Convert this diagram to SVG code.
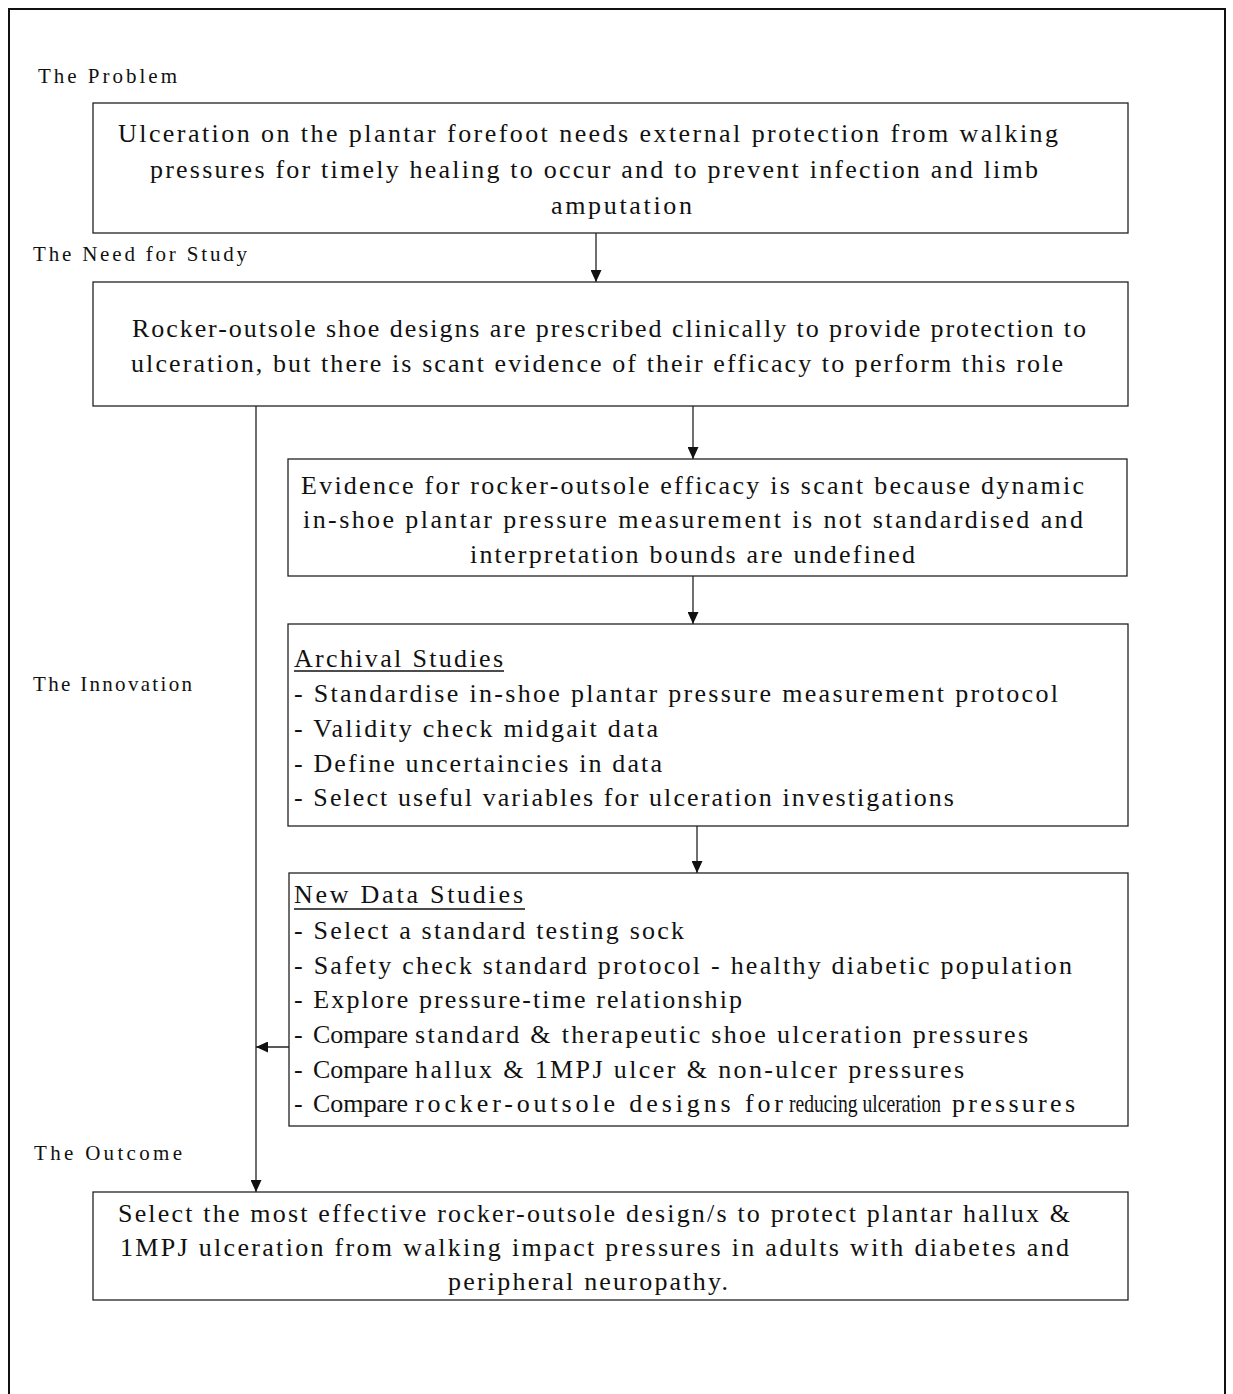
<svg xmlns="http://www.w3.org/2000/svg" width="1233" height="1394" viewBox="0 0 1233 1394">
<style>
text{font-family:"Liberation Serif","Times New Roman",serif;fill:#111}
.lbl{font-size:21px}
.bt{font-size:26px}
.box{fill:#fff;stroke:#222;stroke-width:1.3}
.con{stroke:#222;stroke-width:1.3;fill:none}
.ul{stroke:#111;stroke-width:1.3}
</style>
<defs>
<marker id="ah" markerUnits="userSpaceOnUse" markerWidth="12" markerHeight="11" refX="12" refY="5.5" orient="auto">
<path d="M0,0 L12,5.5 L0,11 Z" fill="#111"/>
</marker>
</defs>
<rect x="0" y="0" width="1233" height="1394" fill="#fff"/>
<rect x="9" y="9" width="1216" height="1400" fill="none" stroke="#111" stroke-width="2"/>

<g id="labels">
<text class="lbl" x="38" y="83" textLength="139" lengthAdjust="spacing">The Problem</text>
<text class="lbl" x="33" y="261" textLength="214" lengthAdjust="spacing">The Need for Study</text>
<text class="lbl" x="33" y="691" textLength="159" lengthAdjust="spacing">The Innovation</text>
<text class="lbl" x="34" y="1160" textLength="148" lengthAdjust="spacing">The Outcome</text>
</g>

<g id="connectors">
<line class="con" x1="596" y1="233" x2="596" y2="282" marker-end="url(#ah)"/>
<line class="con" x1="256" y1="406" x2="256" y2="1192" marker-end="url(#ah)"/>
<line class="con" x1="693" y1="406" x2="693" y2="459" marker-end="url(#ah)"/>
<line class="con" x1="693" y1="576" x2="693" y2="624" marker-end="url(#ah)"/>
<line class="con" x1="697" y1="826" x2="697" y2="873" marker-end="url(#ah)"/>
<line class="con" x1="289" y1="1047" x2="256" y2="1047" marker-end="url(#ah)"/>
</g>

<g id="problem">
<rect class="box" x="93" y="103" width="1035" height="130"/>
<text class="bt" x="118" y="142" textLength="940" lengthAdjust="spacing">Ulceration on the plantar forefoot needs external protection from walking</text>
<text class="bt" x="150" y="178" textLength="888" lengthAdjust="spacing">pressures for timely healing to occur and to prevent infection and limb</text>
<text class="bt" x="551" y="214" textLength="141" lengthAdjust="spacing">amputation</text>
</g>

<g id="need">
<rect class="box" x="93" y="282" width="1035" height="124"/>
<text class="bt" x="132" y="337" textLength="954" lengthAdjust="spacing">Rocker-outsole shoe designs are prescribed clinically to provide protection to</text>
<text class="bt" x="131" y="372" textLength="932" lengthAdjust="spacing">ulceration, but there is scant evidence of their efficacy to perform this role</text>
</g>

<g id="evidence">
<rect class="box" x="288" y="459" width="839" height="117"/>
<text class="bt" x="301" y="494" textLength="783" lengthAdjust="spacing">Evidence for rocker-outsole efficacy is scant because dynamic</text>
<text class="bt" x="303" y="528" textLength="780" lengthAdjust="spacing">in-shoe plantar pressure measurement is not standardised and</text>
<text class="bt" x="470" y="563" textLength="445" lengthAdjust="spacing">interpretation bounds are undefined</text>
</g>

<g id="archival">
<rect class="box" x="288" y="624" width="840" height="202"/>
<text class="bt" x="294" y="667" textLength="209" lengthAdjust="spacing">Archival Studies</text>
<line class="ul" x1="294" y1="671" x2="504" y2="671"/>
<text class="bt" x="294" y="702" textLength="764" lengthAdjust="spacing">- Standardise in-shoe plantar pressure measurement protocol</text>
<text class="bt" x="294" y="737" textLength="364" lengthAdjust="spacing">- Validity check midgait data</text>
<text class="bt" x="294" y="772" textLength="368" lengthAdjust="spacing">- Define uncertaincies in data</text>
<text class="bt" x="294" y="806" textLength="660" lengthAdjust="spacing">- Select useful variables for ulceration investigations</text>
</g>

<g id="newdata">
<rect class="box" x="289" y="873" width="839" height="253"/>
<text class="bt" x="294" y="903" textLength="229" lengthAdjust="spacing">New Data Studies</text>
<line class="ul" x1="294" y1="909" x2="525" y2="909"/>
<text class="bt" x="294" y="939" textLength="390" lengthAdjust="spacing">- Select a standard testing sock</text>
<text class="bt" x="294" y="974" textLength="778" lengthAdjust="spacing">- Safety check standard protocol - healthy diabetic population</text>
<text class="bt" x="294" y="1008" textLength="448" lengthAdjust="spacing">- Explore pressure-time relationship</text>
<text class="bt" x="294" y="1043">-</text>
<text class="bt" x="313" y="1043" textLength="95" lengthAdjust="spacingAndGlyphs">Compare</text>
<text class="bt" x="415" y="1043" textLength="613" lengthAdjust="spacing">standard &amp; therapeutic shoe ulceration pressures</text>
<text class="bt" x="294" y="1078">-</text>
<text class="bt" x="313" y="1078" textLength="95" lengthAdjust="spacingAndGlyphs">Compare</text>
<text class="bt" x="415" y="1078" textLength="549" lengthAdjust="spacing">hallux &amp; 1MPJ ulcer &amp; non-ulcer pressures</text>
<text class="bt" x="294" y="1112">-</text>
<text class="bt" x="313" y="1112" textLength="95" lengthAdjust="spacingAndGlyphs">Compare</text>
<text class="bt" x="415" y="1112" textLength="368" lengthAdjust="spacing">rocker-outsole designs for</text>
<text x="0" y="0" transform="translate(789,1112) scale(1,1.3)" style="font-size:20px" textLength="152" lengthAdjust="spacingAndGlyphs">reducing ulceration</text>
<text class="bt" x="952" y="1112" textLength="123" lengthAdjust="spacing">pressures</text>
</g>

<g id="outcome">
<rect class="box" x="93" y="1192" width="1035" height="108"/>
<text class="bt" x="118" y="1222" textLength="952" lengthAdjust="spacing">Select the most effective rocker-outsole design/s to protect plantar hallux &amp;</text>
<text class="bt" x="120" y="1256" textLength="949" lengthAdjust="spacing">1MPJ ulceration from walking impact pressures in adults with diabetes and</text>
<text class="bt" x="448" y="1290" textLength="280" lengthAdjust="spacing">peripheral neuropathy.</text>
</g>
</svg>
